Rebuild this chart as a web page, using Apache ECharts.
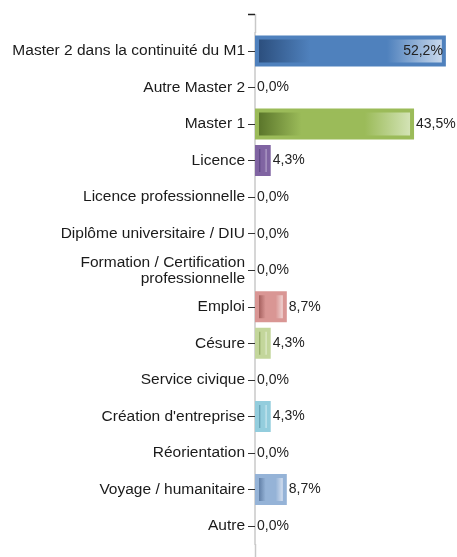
<!DOCTYPE html>
<html>
<head>
<meta charset="utf-8">
<script src="https://cdn.jsdelivr.net/npm/echarts@6/dist/echarts.min.js"></script>
<style>
  html, body { margin: 0; padding: 0; background: #fff; }
  #chart { width: 457px; height: 557px; }
</style>
</head>
<body>
<div id="chart"></div>
<script>
const categories = [
  "Master 2 dans la continuité du M1",
  "Autre Master 2",
  "Master 1",
  "Licence",
  "Licence professionnelle",
  "Diplôme universitaire / DIU",
  "Formation / Certification\nprofessionnelle",
  "Emploi",
  "Césure",
  "Service civique",
  "Création d'entreprise",
  "Réorientation",
  "Voyage / humanitaire",
  "Autre"
];
const values = [52.2, 0, 43.5, 4.3, 0, 0, 0, 8.7, 4.3, 0, 4.3, 0, 8.7, 0];

// bar colours: base (rim), dark (left of fill), light (right of fill)
const baseColors = ["#4f81bd", null, "#9bbb59", "#8064a2", null, null, null, "#d99694", "#c3d69b", null, "#93cddd", null, "#95b3d7", null];
const darkColors = ["#2c4f7e", null, "#5b762b", "#5a4380", null, null, null, "#a5605e", "#8ca55e", null, "#5f9bae", null, "#617fa6", null];
const lightColors = ["#c8d8ec", null, "#d3e3b5", "#b7a5cc", null, null, null, "#f0d3d2", "#e2ecce", null, "#cfe9f1", null, "#d2deef", null];

const font = "'Liberation Sans', Arial, sans-serif";
const fmt = (v) => v.toFixed(1).replace(".", ",") + "%";
const rim = 4;

const chart = echarts.init(document.getElementById("chart"), null, { renderer: "canvas" });

// fill gradient: dark on the left, light on the right, inside the rim
function fillFor(i, len) {
  const a = Math.min(0.4, rim / Math.max(len, 1));
  const span = 1 - 2 * a;
  return new echarts.graphic.LinearGradient(0, 0, 1, 0, [
    { offset: a, color: darkColors[i] },
    { offset: a + 0.28 * span, color: baseColors[i] },
    { offset: 1 - a - 0.3 * span, color: baseColors[i] },
    { offset: 1 - a, color: lightColors[i] }
  ]);
}

function buildData(lengths) {
  return values.map((v, i) => {
    if (!baseColors[i] || v === 0) {
      return { value: v, itemStyle: { color: "transparent", borderWidth: 0 } };
    }
    const item = {
      value: v,
      itemStyle: {
        borderColor: baseColors[i],
        borderWidth: rim,
        color: fillFor(i, lengths ? lengths[i] : 100)
      }
    };
    if (i === 0) item.label = { position: "insideRight", distance: 3 };
    return item;
  });
}

chart.setOption({
  animation: false,
  grid: { left: 255, right: 2, top: 32.7, bottom: 12.7 },
  xAxis: { type: "value", min: 0, max: 54.7, show: false },
  yAxis: {
    type: "category",
    inverse: true,
    data: categories,
    axisLine: { show: true, lineStyle: { color: "#c8c8c8", width: 1.5 } },
    axisTick: { show: true, alignWithLabel: true, length: 7, lineStyle: { color: "#333", width: 1 } },
    axisLabel: {
      interval: 0,
      margin: 10,
      fontFamily: font,
      fontSize: 15.5,
      lineHeight: 16,
      color: "#1a1a1a",
      align: "right"
    }
  },
  series: [
    {
      type: "bar",
      barWidth: 31,
      data: buildData(null),
      label: {
        show: true,
        position: "right",
        distance: 2,
        fontFamily: font,
        fontSize: 14,
        color: "#222",
        formatter: (p) => fmt(p.value)
      }
    }
  ],
  graphic: [
    { type: "line", shape: { x1: 255.5, y1: 14, x2: 255.5, y2: 33 }, style: { stroke: "#c8c8c8", lineWidth: 1.5 } },
    { type: "line", shape: { x1: 255.5, y1: 544, x2: 255.5, y2: 557 }, style: { stroke: "#c8c8c8", lineWidth: 1.5 } },
    { type: "line", shape: { x1: 248, y1: 14.5, x2: 255, y2: 14.5 }, style: { stroke: "#222", lineWidth: 1.5 } }
  ]
});

// second pass: bar lengths in pixels from the axis, so the fill gradient sits inside the rim
const x0 = chart.convertToPixel({ xAxisIndex: 0 }, 0);
const lengths = values.map((v) => chart.convertToPixel({ xAxisIndex: 0 }, v) - x0);
chart.setOption({ series: [{ data: buildData(lengths) }] });

window.addEventListener("resize", () => chart.resize());
</script>
</body>
</html>
